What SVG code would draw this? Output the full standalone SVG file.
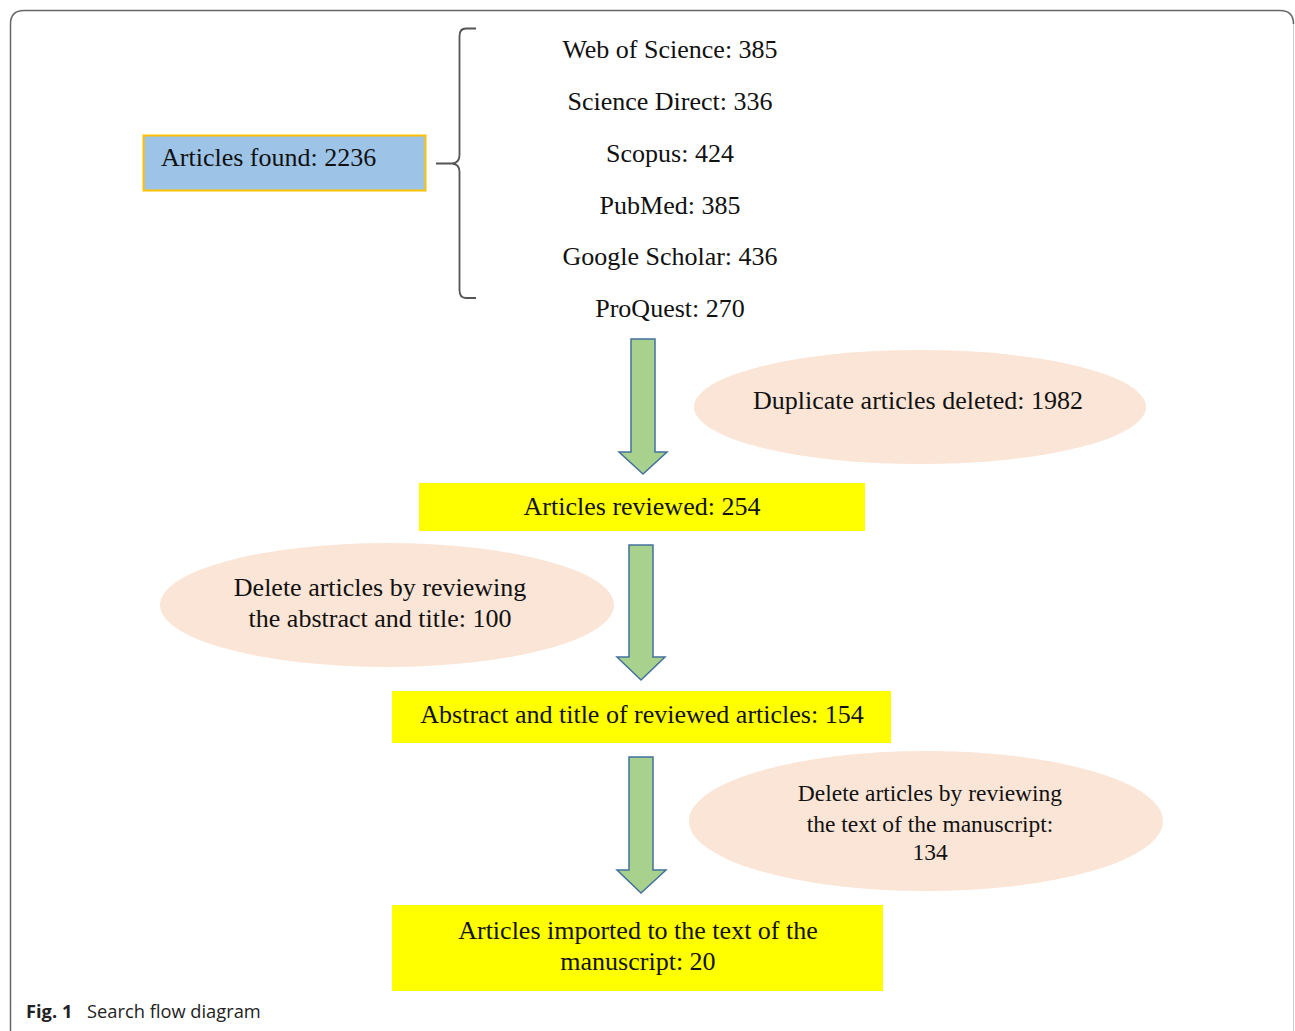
<svg xmlns="http://www.w3.org/2000/svg" width="1295" height="1031" viewBox="0 0 1295 1031">
<defs>
<style>
.t{font-family:"Liberation Serif","Times New Roman",serif;font-size:26px;fill:#111;}
.c{text-anchor:middle;}
.y{fill:#FFFF00;}
.el{fill:#FBE5D6;}
.ar{fill:#A9D18E;stroke:#41719C;stroke-width:1.5;stroke-linejoin:miter;}
.cap{font-family:"Open Sans","Noto Sans",sans-serif;font-size:18.3px;fill:#222;}
</style>
</defs>
<rect width="1295" height="1031" fill="#fff"/>
<path d="M10.5,1031 L10.5,24 Q10.5,10.5 24,10.5 L1280,10.5 Q1293.5,10.5 1293.5,24" fill="none" stroke="#666" stroke-width="1.5"/>
<path d="M1293.5,24 L1293.5,1031" fill="none" stroke="#ccc" stroke-width="1"/>

<g id="articles-found">
<rect x="143.5" y="135.5" width="282" height="55" fill="#9DC3E6" stroke="#FFC000" stroke-width="2"/>
<text class="t" x="161" y="166">Articles found: 2236</text>
</g>

<g id="sources">
<text class="t c" x="670" y="58">Web of Science: 385</text>
<text class="t c" x="670" y="110">Science Direct: 336</text>
<text class="t c" x="670" y="162">Scopus: 424</text>
<text class="t c" x="670" y="214">PubMed: 385</text>
<text class="t c" x="670" y="265">Google Scholar: 436</text>
<text class="t c" x="670" y="317">ProQuest: 270</text>
</g>

<g id="duplicates">
<ellipse class="el" cx="920" cy="407" rx="226" ry="57"/>
<text class="t c" x="918" y="409">Duplicate articles deleted: 1982</text>
</g>

<g id="reviewed">
<rect class="y" x="419" y="483" width="446" height="48"/>
<text class="t c" x="642" y="515">Articles reviewed: 254</text>
</g>

<g id="delete-abstract">
<ellipse class="el" cx="387" cy="605" rx="227" ry="62"/>
<text class="t c" x="380" y="596">Delete articles by reviewing</text>
<text class="t c" x="380" y="627">the abstract and title: 100</text>
</g>

<g id="abstract-reviewed">
<rect class="y" x="392" y="691" width="499" height="52"/>
<text class="t c" x="642" y="723">Abstract and title of reviewed articles: 154</text>
</g>

<g id="delete-text">
<ellipse class="el" cx="926" cy="821" rx="237" ry="70"/>
<text class="t c" x="930" y="801" style="font-size:23.5px">Delete articles by reviewing</text>
<text class="t c" x="930" y="832" style="font-size:23.5px">the text of the manuscript:</text>
<text class="t c" x="930" y="860" style="font-size:23.5px">134</text>
</g>

<g id="imported">
<rect class="y" x="392" y="905" width="491" height="86"/>
<text class="t c" x="638" y="939">Articles imported to the text of the</text>
<text class="t c" x="638" y="970">manuscript: 20</text>
</g>

<g id="connectors">
<path d="M476,28.5 L466,28.5 Q459.5,28.5 459.5,36 L459.5,155 Q459.5,163 452,163.5 L436,163.5 M452,163.5 Q459.5,164 459.5,172 L459.5,290 Q459.5,298 466,298 L476,298" fill="none" stroke="#555" stroke-width="1.8"/>
<path class="ar" d="M631,339 L655,339 L655,452 L667,452 L643,474 L619,452 L631,452 Z"/>
<path class="ar" d="M629,545 L653,545 L653,657 L665,657 L641,680 L617,657 L629,657 Z"/>
<path class="ar" d="M629,757 L653,757 L653,870 L666,870 L641,893 L617,870 L629,870 Z"/>
</g>

<g id="caption">
<text class="cap" x="26" y="1018"><tspan font-weight="bold">Fig. 1</tspan><tspan x="87">Search flow diagram</tspan></text>
</g>
</svg>
